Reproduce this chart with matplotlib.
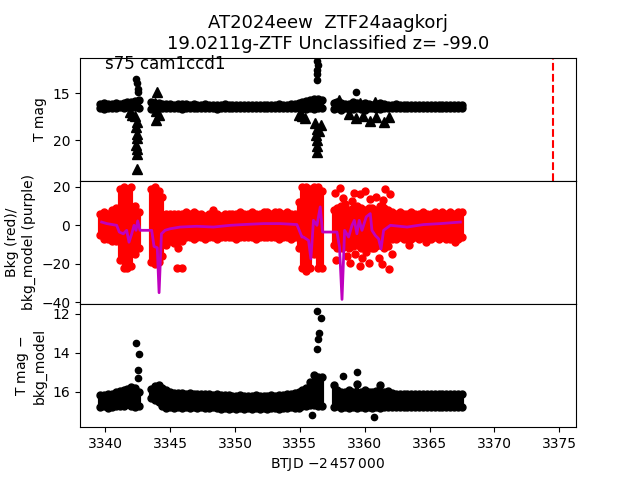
import matplotlib
matplotlib.use("Agg")
import matplotlib.pyplot as plt

# --- data (BTJD - 2457000) ---
# cadence times of the dense band (3 segments)
t_band = [3339.6, 3339.9, 3340.2, 3340.5, 3340.8, 3341.1, 3341.4, 3341.7, 3342.0, 3342.3, 3342.6,
          3343.5, 3343.8, 3344.1, 3344.4, 3344.7, 3345.0, 3345.3, 3345.6, 3345.9, 3346.2,
          3346.5, 3346.8, 3347.1, 3347.4, 3347.7, 3348.0, 3348.3, 3348.6, 3348.9, 3349.2,
          3349.5, 3349.8, 3350.1, 3350.4, 3350.7, 3351.0, 3351.3, 3351.6, 3351.9, 3352.2,
          3352.5, 3352.8, 3353.1, 3353.4, 3353.7, 3354.0, 3354.3, 3354.6,
          3354.9, 3355.2, 3355.5, 3355.8, 3356.1, 3356.4, 3356.7,
          3357.6, 3357.9, 3358.2, 3358.5, 3358.8, 3359.1, 3359.4, 3359.7, 3360.0, 3360.3,
          3360.6, 3360.9, 3361.2, 3361.5, 3361.8, 3362.1, 3362.4, 3362.7, 3363.0, 3363.3,
          3363.6, 3363.9, 3364.2, 3364.5, 3364.8, 3365.1, 3365.4, 3365.7, 3366.0, 3366.3,
          3366.6, 3366.9, 3367.2, 3367.5]

# T mag: bright and faint edge of the band
tmag_hi = [16.1, 16.0, 16.1, 16.1, 16.0, 16.1, 16.0, 15.9, 15.9, 15.8, 15.7,
           15.9, 16.0, 16.0, 16.1, 16.1, 16.1, 16.2, 16.1, 16.1, 16.1,
           16.2, 16.1, 16.2, 16.2, 16.1, 16.2, 16.2, 16.2, 16.2, 16.1,
           16.2, 16.2, 16.2, 16.2, 16.2, 16.2, 16.2, 16.2, 16.2, 16.2,
           16.2, 16.2, 16.2, 16.1, 16.2, 16.2, 16.1, 16.1,
           16.0, 15.9, 15.8, 15.7, 15.6, 15.6, 15.7,
           16.0, 15.9, 16.0, 16.1, 16.1, 15.9, 16.0, 16.1, 16.0, 16.1,
           16.2, 16.1, 16.0, 16.1, 16.2, 16.2, 16.1, 16.2, 16.2, 16.2,
           16.2, 16.2, 16.2, 16.2, 16.2, 16.2, 16.2, 16.2, 16.2, 16.2,
           16.2, 16.2, 16.2, 16.2]
tmag_lo = [16.6, 16.7, 16.6, 16.6, 16.6, 16.5, 16.6, 16.5, 16.4, 16.5, 16.6,
           16.7, 16.6, 16.6, 16.6, 16.6, 16.6, 16.6, 16.6, 16.7, 16.6,
           16.6, 16.6, 16.6, 16.6, 16.6, 16.6, 16.6, 16.7, 16.6, 16.6,
           16.6, 16.6, 16.6, 16.6, 16.6, 16.6, 16.6, 16.6, 16.6, 16.6,
           16.6, 16.6, 16.6, 16.6, 16.6, 16.6, 16.6, 16.6,
           16.6, 16.7, 16.7, 16.6, 16.7, 16.6, 16.6,
           16.7, 16.6, 16.8, 16.6, 16.7, 16.7, 16.6, 16.7, 16.8, 16.6,
           16.6, 16.7, 16.7, 16.6, 16.6, 16.6, 16.6, 16.6, 16.6, 16.6,
           16.6, 16.6, 16.6, 16.6, 16.6, 16.6, 16.6, 16.6, 16.6, 16.6,
           16.6, 16.6, 16.6, 16.6]

# isolated bright points and upper limits in T mag
tmag_pk_t = [3342.35, 3342.45, 3342.5, 3342.55, 3356.3, 3356.4, 3356.35, 3356.3, 3356.35, 3359.3, 3357.8]
tmag_pk_m = [13.5, 13.9, 14.5, 14.9, 11.6, 12.0, 12.5, 12.9, 13.6, 14.9, 15.9]
ul_t = [3341.9, 3342.05, 3342.3, 3342.4, 3342.35, 3342.4, 3342.45, 3342.35, 3342.45, 3342.4, 3342.45,
        3344.0, 3343.8, 3344.1, 3343.9, 3344.1, 3343.9,
        3355.2, 3354.9, 3355.4, 3356.2, 3356.3, 3356.25, 3356.35, 3356.3, 3356.3, 3356.5, 3356.6,
        3358.0, 3358.8, 3359.3, 3359.9, 3360.4, 3360.9, 3361.5, 3361.9, 3359.6, 3360.8]
ul_m = [17.0, 17.3, 17.4, 18.0, 18.6, 19.3, 19.8, 20.5, 20.9, 21.4, 23.0,
        14.9, 16.0, 16.3, 16.9, 17.3, 17.8,
        17.4, 17.3, 17.6, 18.2, 18.8, 19.4, 20.0, 20.6, 21.2, 19.0, 18.4,
        15.7, 17.2, 17.6, 17.4, 17.9, 17.5, 18.1, 17.5, 16.0, 15.9]

# background: top and bottom edge of the red band
bkg_hi = [6, 7, 6, 8, 9, 19, 20, 19, 20, 10, 7,
          19, 20, 18, 15, 6, 6, 6, 6, 6, 7,
          6, 7, 6, 6, 5, 6, 6, 6, 5, 6,
          6, 6, 6, 7, 6, 6, 7, 6, 6, 7,
          7, 6, 7, 7, 6, 7, 6, 6,
          12, 20, 20, 19, 20, 20, 18,
          8, 9, 10, 9, 8, 9, 10, 9, 8, 9,
          9, 8, 10, 9, 8, 7, 6, 7, 6, 6,
          7, 6, 6, 7, 6, 6, 7, 6, 7, 6,
          7, 6, 7, 7]
bkg_lo = [-5, -7, -7, -8, -8, -18, -22, -22, -21, -15, -12,
          -19, -20, -19, -16, -10, -8, -9, -12, -8, -6,
          -6, -7, -6, -6, -7, -6, -6, -7, -6, -6,
          -6, -6, -7, -6, -6, -6, -6, -7, -6, -6,
          -6, -6, -6, -7, -6, -6, -7, -6,
          -12, -22, -24, -22, -15, -22, -22,
          -10, -12, -11, -10, -12, -11, -10, -12, -11, -10,
          -12, -11, -10, -12, -11, -7, -7, -6, -7, -7,
          -7, -6, -7, -6, -7, -7, -6, -7, -6, -7,
          -7, -6, -7, -6]
bkg_sc_t = [3358.11, 3359.14, 3359.66, 3360.43, 3361.6, 3361.98, 3358.5, 3359.4, 3360.56, 3361.3,
            3358.0, 3358.76, 3358.24, 3359.27, 3360.3, 3361.07, 3361.85, 3359.8, 3358.9, 3360.7,
            3362.1, 3345.5, 3345.9, 3348.3, 3364.7, 3367.0, 3363.4, 3358.3, 3359.0, 3360.0,
            3360.9, 3361.4, 3358.6, 3359.6, 3360.1, 3361.3, 3361.7, 3357.7, 3357.8]
bkg_sc_v = [19.6, 17, 16.3, 13.7, 19, 16.3, 11, 6.5, 8.4, 10,
            9, 2, -12, -15, -19.8, -17, -23, -17, -19.8, -12,
            -15, -22, -22, 7.9, -8.8, -8.8, -10.5, 14, 12.5, 18,
            15, 13, -16, -21, -14, -20, -10, 17, -18]

# background model (purple line)
mod_t = [3339.71, 3340.1, 3340.87, 3341.07, 3341.38, 3341.64, 3341.82, 3342.03, 3342.21, 3342.36,
         3342.49, 3342.67, 3343.57, 3343.75, 3344.0, 3344.14, 3344.32, 3344.6, 3344.99, 3345.76,
         3347.05, 3348.33, 3349.62, 3350.91, 3352.2, 3353.48, 3354.77, 3355.16, 3355.28, 3355.67,
         3355.85, 3356.05, 3356.32, 3356.57, 3356.75, 3357.86, 3358.06, 3358.25, 3358.45, 3358.76,
         3359.02, 3359.2, 3359.4, 3359.58, 3359.79, 3360.12, 3360.43, 3360.56, 3360.82, 3361.07,
         3361.26, 3361.46, 3361.98, 3363.27, 3364.55, 3365.84, 3367.38]
mod_v = [1.7, 0.9, 0, -3.5, -4.4, -2.6, -8.8, -4.4, 0, -2.6,
         2.3, -2.6, -2.6, -11, -11.7, -35.1, -4.4, -2.6, -1.8, -0.9,
         -0.5, -0.9, 0, 0.5, 0.9, 0.9, 0.4, -6.1, -6.1, -7.9,
         -17.5, 2.6, 0, 9.6, -3.5, -3.5, -11.4, -38.6, -2.6, -6.1,
         0, 2.6, -4.4, 2.6, -2.6, 4.4, 6.1, -2.6, -5.3, -7,
         -12.3, -2.6, 0, -0.9, 0.4, 0.9, 1.7]

# T mag - bkg_model
sub_hi = [16.15, 16.15, 16.1, 16.1, 16.0, 15.95, 15.9, 15.85, 15.75, 15.8, 16.0,
          15.85, 15.7, 15.65, 15.8, 15.9, 16.0, 16.05, 16.05, 16.05, 16.1,
          16.05, 16.1, 16.1, 16.1, 16.1, 16.1, 16.15, 16.1, 16.15, 16.15,
          16.15, 16.2, 16.2, 16.15, 16.2, 16.2, 16.2, 16.15, 16.2, 16.2,
          16.2, 16.15, 16.2, 16.15, 16.15, 16.1, 16.1, 16.05,
          16.0, 15.9, 15.8, 15.5, 15.15, 15.25, 15.25,
          15.65, 15.9, 16.0, 16.0, 15.9, 16.0, 15.6, 16.0, 15.9, 16.0,
          16.0, 15.95, 15.65, 16.0, 15.95, 16.05, 16.1, 16.1, 16.1, 16.1,
          16.1, 16.1, 16.1, 16.1, 16.1, 16.1, 16.1, 16.1, 16.1, 16.1,
          16.1, 16.1, 16.1, 16.1]
sub_lo = [16.75, 16.7, 16.8, 16.75, 16.7, 16.7, 16.7, 16.6, 16.7, 16.75, 16.7,
          16.3, 16.4, 16.5, 16.7, 16.8, 16.75, 16.8, 16.75, 16.8, 16.75,
          16.8, 16.75, 16.8, 16.75, 16.8, 16.8, 16.75, 16.8, 16.85, 16.8,
          16.85, 16.8, 16.85, 16.8, 16.85, 16.8, 16.85, 16.8, 16.85, 16.8,
          16.85, 16.8, 16.8, 16.85, 16.8, 16.8, 16.75, 16.8,
          16.8, 16.7, 16.7, 16.65, 16.65, 16.7, 16.7,
          16.75, 16.7, 16.8, 16.75, 16.8, 16.75, 16.8, 16.75, 16.8, 16.75,
          16.8, 16.75, 16.8, 16.75, 16.75, 16.75, 16.75, 16.75, 16.75, 16.75,
          16.75, 16.75, 16.75, 16.75, 16.75, 16.75, 16.75, 16.75, 16.75, 16.75,
          16.75, 16.75, 16.75, 16.75]
sub_pk_t = [3342.35, 3342.6, 3342.55, 3342.5, 3356.3, 3356.6, 3356.45, 3356.4, 3356.3, 3359.4, 3358.3, 3355.9, 3360.7]
sub_pk_m = [13.5, 14.05, 14.9, 15.3, 11.85, 12.2, 13.0, 13.3, 13.8, 15.0, 15.2, 17.2, 17.3]

t_peak_line = 3374.5

fig, axs = plt.subplots(3, 1, sharex=True, figsize=(6.4, 4.8), dpi=100)
fig.subplots_adjust(hspace=0)
ax1, ax2, ax3 = axs

# top: T mag
ax1.vlines(t_band, tmag_hi, tmag_lo, color='k', lw=3)
ax1.plot(t_band, tmag_hi, 'ko', ms=5)
ax1.plot(t_band, tmag_lo, 'ko', ms=5)
ax1.plot(tmag_pk_t, tmag_pk_m, 'ko', ms=4.5)
ax1.plot(ul_t, ul_m, 'k^', ms=7.5)
ax1.axvline(t_peak_line, color='r', ls='--')
ax1.set_ylim(24.3, 11.2)
ax1.set_yticks([15, 20])
ax1.set_ylabel('T mag')
ax1.text(0.05, 1.02, 's75 cam1ccd1', transform=ax1.transAxes, fontsize=12, va='top')
ax1.set_title('AT2024eew  ZTF24aagkorj\n19.0211g-ZTF Unclassified z= -99.0', fontsize=13)

# middle: background and model
ax2.vlines(t_band, bkg_lo, bkg_hi, color='r', lw=3)
ax2.plot(t_band, bkg_hi, 'ro', ms=5)
ax2.plot(t_band, bkg_lo, 'ro', ms=5)
ax2.plot(bkg_sc_t, bkg_sc_v, 'ro', ms=5)
ax2.plot(mod_t, mod_v, color='m', lw=2)
ax2.set_ylim(-41, 23.2)
ax2.set_yticks([-40, -20, 0, 20])
ax2.set_ylabel('Bkg (red)/\nbkg_model (purple)')

# bottom: T mag - bkg_model
ax3.vlines(t_band, sub_hi, sub_lo, color='k', lw=3)
ax3.plot(t_band, sub_hi, 'ko', ms=5)
ax3.plot(t_band, sub_lo, 'ko', ms=5)
ax3.plot(sub_pk_t, sub_pk_m, 'ko', ms=4.5)
ax3.set_ylim(17.8, 11.5)
ax3.set_yticks([12, 14, 16])
ax3.set_ylabel('T mag $-$\nbkg_model')

ax3.set_xlim(3338.04, 3376.3)
ax3.set_xlabel(r'BTJD $-2\,457\,000$')

fig.savefig('out.png', dpi=100)
